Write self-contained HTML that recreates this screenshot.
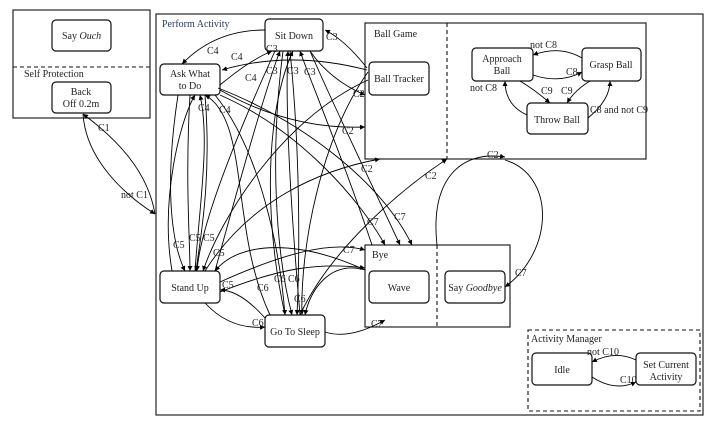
<!DOCTYPE html>
<html><head><meta charset="utf-8"><style>
html,body{margin:0;padding:0;background:#fff;}
svg{display:block;}
text{font-family:"Liberation Serif",serif;font-size:10px;fill:#222;}
.l{fill:#2a3a5a;}
</style></head><body>
<svg width="722" height="427" viewBox="0 0 722 427" xmlns="http://www.w3.org/2000/svg">
<defs><marker id="a" markerWidth="6" markerHeight="6" refX="5" refY="3" orient="auto" markerUnits="userSpaceOnUse"><path d="M0,0.5 L5,3 L0,5.5 z" fill="#000"/></marker></defs>
<g fill="none" stroke="#111" stroke-width="1.1">
<rect x="13" y="10" width="137" height="108"/>
<line x1="13" y1="67" x2="150" y2="67" stroke-dasharray="4,3"/>
<rect x="156" y="14" width="547" height="401"/>
<rect x="365" y="23" width="281" height="136"/>
<line x1="447" y1="23" x2="447" y2="159" stroke-dasharray="4,3"/>
<rect x="365" y="245" width="145" height="82"/>
<line x1="437" y1="245" x2="437" y2="327" stroke-dasharray="4,3"/>
<rect x="528" y="330" width="172" height="81" stroke-dasharray="4,3"/>
<g stroke-width="1.2">
<rect x="52" y="20" width="59" height="31" rx="4"/>
<rect x="52" y="82" width="59" height="31" rx="4"/>
<rect x="265" y="19" width="58" height="32" rx="4"/>
<rect x="160" y="64" width="60" height="31" rx="4"/>
<rect x="369" y="62" width="60" height="33" rx="4"/>
<rect x="472" y="48" width="61" height="33" rx="4"/>
<rect x="582" y="48" width="59" height="33" rx="4"/>
<rect x="527" y="103" width="61" height="31" rx="4"/>
<rect x="369" y="271" width="60" height="32" rx="4"/>
<rect x="445" y="271" width="60" height="32" rx="4"/>
<rect x="160" y="271" width="60" height="32" rx="4"/>
<rect x="265" y="315" width="60" height="32" rx="4"/>
<rect x="532" y="353" width="60" height="32" rx="4"/>
<rect x="636" y="353" width="60" height="32" rx="4"/>
</g>
</g>
<g fill="none" stroke="#000" stroke-width="0.9" marker-end="url(#a)">
<path d="M83,114 C86,160 125,195 155,214"/>
<path d="M155,214 C148,172 118,140 83,114"/>
<path d="M265,30 Q215,30 182,64"/>
<path d="M367,70 Q290,50 222,70"/>
<path d="M215,271 C240,180 265,90 280,51"/>
<path d="M300,315 C290,200 285,100 288,51"/>
<path d="M285,315 C260,200 270,100 293,51"/>
<path d="M372,245 C340,150 310,80 300,51"/>
<path d="M367,68 Q345,40 325,30"/>
<path d="M220,85 Q250,60 272,51"/>
<path d="M310,51 Q330,80 365,95"/>
<path d="M220,90 Q290,130 365,127"/>
<path d="M220,95 C300,130 360,200 385,245"/>
<path d="M218,88 C300,120 380,180 412,245"/>
<path d="M205,271 C250,200 320,170 380,159"/>
<path d="M300,315 C330,250 400,190 447,159"/>
<path d="M220,282 C280,255 330,240 365,250"/>
<path d="M220,292 C280,268 320,262 365,268"/>
<path d="M325,332 Q350,340 385,320"/>
<path d="M437,245 C430,180 460,150 505,157"/>
<path d="M505,160 C555,175 555,250 505,287"/>
<path d="M205,303 Q230,330 265,327"/>
<path d="M265,318 Q240,290 220,290"/>
<path d="M178,95 C165,180 170,240 185,271"/>
<path d="M190,95 C185,180 190,240 190,271"/>
<path d="M205,95 C212,180 200,240 196,271"/>
<path d="M275,51 C230,150 200,230 197,271"/>
<path d="M368,80 C280,120 220,220 203,271"/>
<path d="M172,271 C160,200 180,120 195,95"/>
<path d="M195,271 C200,200 210,140 200,95"/>
<path d="M270,315 C230,230 250,120 205,95"/>
<path d="M215,95 C260,150 280,250 285,315"/>
<path d="M283,51 C270,150 275,250 292,315"/>
<path d="M290,51 C300,150 300,250 297,315"/>
<path d="M368,72 C320,140 300,250 302,315"/>
<path d="M365,270 C330,260 310,290 305,315"/>
<path d="M365,270 C300,240 240,240 215,271"/>
<path d="M310,51 C340,120 370,180 400,245"/>
<path d="M533,75 Q560,84 582,72"/>
<path d="M582,58 Q560,45 533,55"/>
<path d="M520,81 Q535,90 550,103"/>
<path d="M590,81 Q575,90 567,103"/>
<path d="M527,115 Q505,105 505,81"/>
<path d="M588,118 Q610,100 610,81"/>
<path d="M636,360 Q615,350 592,362"/>
<path d="M592,377 Q615,392 636,382"/>
</g>
<text x="62" y="39">Say <tspan font-style="italic">Ouch</tspan></text>
<text x="24" y="77">Self Protection</text>
<text x="81" y="95" text-anchor="middle">Back</text>
<text x="81" y="107" text-anchor="middle">Off 0.2m</text>
<text x="162" y="27" class="l">Perform Activity</text>
<text x="294" y="39" text-anchor="middle">Sit Down</text>
<text x="190" y="77" text-anchor="middle">Ask What</text>
<text x="190" y="89" text-anchor="middle">to Do</text>
<text x="374" y="37">Ball Game</text>
<text x="399" y="82" text-anchor="middle">Ball Tracker</text>
<text x="502" y="62" text-anchor="middle">Approach</text>
<text x="502" y="74" text-anchor="middle">Ball</text>
<text x="611" y="68" text-anchor="middle">Grasp Ball</text>
<text x="557" y="123" text-anchor="middle">Throw Ball</text>
<text x="372" y="258">Bye</text>
<text x="399" y="291" text-anchor="middle">Wave</text>
<text x="475" y="291" text-anchor="middle">Say <tspan font-style="italic">Goodbye</tspan></text>
<text x="190" y="291" text-anchor="middle">Stand Up</text>
<text x="295" y="335" text-anchor="middle">Go To Sleep</text>
<text x="531" y="342">Activity Manager</text>
<text x="562" y="373" text-anchor="middle">Idle</text>
<text x="666" y="368" text-anchor="middle">Set Current</text>
<text x="666" y="380" text-anchor="middle">Activity</text>
<g class="l">
<text x="98" y="131">C1</text>
<text x="121" y="198">not C1</text>
<text x="207" y="54">C4</text>
<text x="231" y="60">C4</text>
<text x="245" y="81">C4</text>
<text x="266" y="52">C3</text>
<text x="266" y="74">C3</text>
<text x="287" y="74">C3</text>
<text x="304" y="75">C3</text>
<text x="326" y="40">C3</text>
<text x="353" y="97">C2</text>
<text x="342" y="134">C2</text>
<text x="198" y="111">C4</text>
<text x="219" y="113">C4</text>
<text x="530" y="48">not C8</text>
<text x="566" y="75">C8</text>
<text x="470" y="91">not C8</text>
<text x="541" y="94">C9</text>
<text x="561" y="94">C9</text>
<text x="590" y="113">C8 and not C9</text>
<text x="487" y="158">C2</text>
<text x="425" y="179">C2</text>
<text x="361" y="172">C2</text>
<text x="394" y="220">C7</text>
<text x="367" y="225">C7</text>
<text x="343" y="253">C7</text>
<text x="515" y="276">C7</text>
<text x="371" y="327">C7</text>
<text x="173" y="248">C5</text>
<text x="189" y="241">C5</text>
<text x="203" y="241">C5</text>
<text x="213" y="256">C5</text>
<text x="222" y="288">C5</text>
<text x="257" y="291">C6</text>
<text x="274" y="282">C6</text>
<text x="288" y="282">C6</text>
<text x="294" y="302">C6</text>
<text x="252" y="326">C6</text>
<text x="587" y="355">not C10</text>
<text x="620" y="383">C10</text>
</g>
</svg>
</body></html>
